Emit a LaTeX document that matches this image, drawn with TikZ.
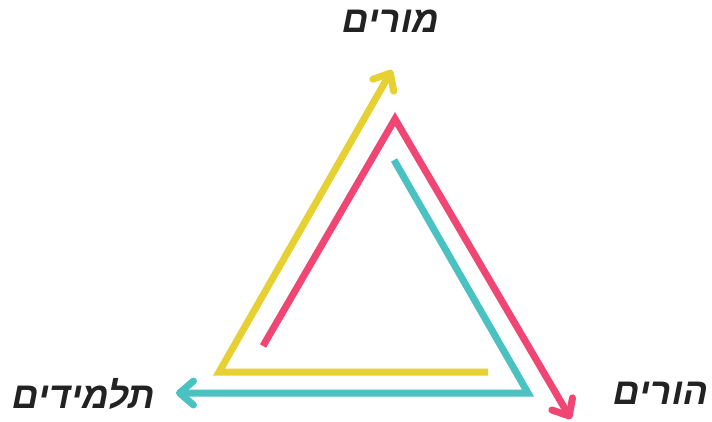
\documentclass[tikz,border=0pt]{standalone}
\usepackage{fontspec}
\usepackage{tikz}
\usetikzlibrary{arrows.meta}
\TeXXeTstate=1
\newfontfamily\hebfont[Script=Hebrew,FakeSlant=0.2]{Liberation Sans}
\definecolor{TriYellow}{HTML}{E6D032}
\definecolor{TriPink}{HTML}{EF4674}
\definecolor{TriTeal}{HTML}{4BC2C2}
\definecolor{LabelGray}{HTML}{222222}

\begin{document}
\begin{tikzpicture}[x=1pt,y=-1pt,
  side/.style={line width=7pt},
  tipped/.style={-{Straight Barb[length=14pt,width=24pt,round]}},
  role/.style={font=\hebfont\bfseries\fontsize{37}{37}\selectfont,text=LabelGray,inner sep=0pt}]
  \useasboundingbox (0,0) rectangle (712,421);
  % labels
  \node[role] (teachers) at (389,21) {\beginR מורים\endR};
  \node[role] (parents) at (659,393) {\beginR הורים\endR};
  \node[role] (students) at (82,394) {\beginR תלמידים\endR};
  % corners of the three sides
  \coordinate (ystart) at (488,372);
  \coordinate (ycorner) at (219,372);
  \coordinate (yend) at (392,70);
  \coordinate (pstart) at (263,346);
  \coordinate (papex) at (395,119);
  \coordinate (pend) at (571,419);
  \coordinate (tstart) at (394,160);
  \coordinate (tcorner) at (528,393);
  \coordinate (tend) at (176,393);
  \draw[side,tipped,TriYellow] (ystart) -- (ycorner) -- (yend);
  \draw[side,tipped,TriPink] (pstart) -- (papex) -- (pend);
  \draw[side,tipped,TriTeal] (tstart) -- (tcorner) -- (tend);
\end{tikzpicture}
\end{document}
